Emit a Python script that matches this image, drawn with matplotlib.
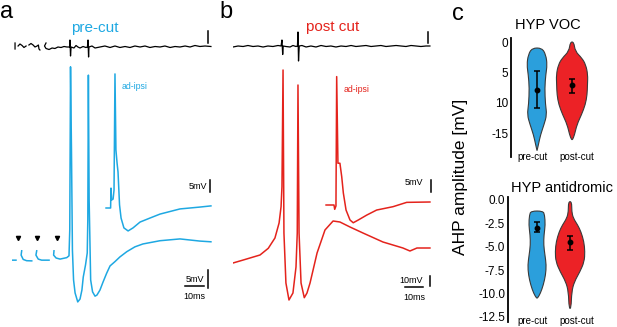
import matplotlib
matplotlib.use("Agg")
import matplotlib.pyplot as plt
import numpy as np
from matplotlib.patches import PathPatch
from matplotlib.path import Path

plt.rcParams["font.family"] = ["Liberation Sans", "DejaVu Sans"]

W, H = 617, 327
nan = np.nan

BLUE = "#1ea8e2"
RED = "#e4231c"
VBLUE = "#2b9fdc"
VRED = "#ec2226"
EDGE = "#3a3a3a"

# ---------------------------------------------------------------------------
# Datos — trazas (t en ms, V en mV; extracelular en u.a.)
# ---------------------------------------------------------------------------
stim_ms = [3.0, 13.3, 23.8]

pre_soma_t = [0, 2.1, nan, 5.1, 4.8, 5.9, 7.7, 10.4, nan, 13.0, 12.6, 13.8, 15.6, 19.5, nan,
              22.1, 21.9, 23.2, 25.3, 28.8, 30.0, 30.4, 30.8, 31.3, 31.8, 32.4, 33.2, 34.6,
              35.8, 36.8, 37.5, 38.7, 39.6, 39.9, 40.2, 40.6, 41.4, 42.4, 43.7, 44.7, 46.3,
              47.9, 49.8, 51.6, 54.2, 56.8, 60.4, 64.7, 68.9, 77.9, 88.4, 98.9, 104.7]
pre_soma_v = [-0.6, -0.6, nan, 2.0, 0.8, -0.4, -0.75, -0.8, nan, 2.0, 0.8, -0.3, -0.6, -0.6, nan,
              2.0, 0.8, 0.0, -0.3, 0.1, 0.6, 7.8, 53.1, 30, 2.2, -6.1, -9.7, -12.2,
              -11.4, -8.9, -5.3, -1.9, 1.4, 10.6, 50.8, 16.1, -6.1, -9.4, -10.6, -10.3, -8.9,
              -6.7, -4.25, -2.2, -1.0, 0.3, 1.75, 3.1, 3.9, 4.8, 5.3, 4.7, 4.5]

pre_axon_t = [49.5, 51.9, 52.1, 52.4, 53.2, 53.7, 54.2, 54.7, 55.3, 55.8, 56.6, 57.4, 58.9,
              61.1, 63.7, 67.4, 72.6, 77.9, 88.4, 98.9, 104.7]
pre_axon_v = [0, 0, 8.5, 3.4, 3.8, 7.7, 57.3, 24.8, 19.2, 15.4, 1.3, -4.3, -8.5,
              -9.8, -8.5, -6.0, -4.3, -2.6, -0.4, 0.4, 0.9]

pre_ext_t = [1.6, 1.6, nan, 3.2, 4.2, 5.3, 6.3, 7.4, nan,
             8.9, 10.0, 11.1, 12.1, 13.2, 13.9, 14.2, 14.7, nan,
             17.9, 17.1, 17.9, 19.5, 21.1, 22.6, 24.2, 25.8, 27.4, 28.9, 30.3, 30.5, 30.8,
             31.1, 32.6, 33.7, 34.7, 35.8, 37.4, 38.9, 39.7, 40.0, 40.3, 40.5, 42.1, 43.7,
             46.3, 48.9, 51.6, 54.2, 56.8, 59.5, 62.1, 64.7, 67.4, 70.0, 72.6, 75.3, 77.9,
             80.5, 83.2, 85.8, 88.4, 91.1, 93.7, 96.3, 98.9, 101.6, 104.7]
pre_ext_v = [4, -2, nan, 1, 3, 1.5, -0.5, 1, nan,
             2, 3.5, 2, 0, 1, 2, -2, -3, nan,
             4, 1, -1.5, -2.5, -1, -1.5, 0, -0.5, 0.5, 0, 0, 7, -9,
             0, -1, 1.5, 0, -1, 0.5, -0.5, 0, 7, -10, 0, 1, -1,
             0, 1, -0.5, 1, -0.5, 0.5, -0.5, 1, 0, 1, -0.5, 0.5, 0,
             1, -0.5, 0.5, 0, 1, 0, 1.5, 0.5, 1, 0.5]

post_soma_t = [0, 5.7, 15, 19.6, 23.3, 25.6, 26.7, 27.2, 27.8, 28.3, 29.4, 31.1, 33.3, 35.0,
               35.7, 36.1, 36.7, 37.8, 39.6, 41.1, 42.8, 46.7, 51.1, 55.6, 59.4, 65.0, 72.2,
               83.3, 94.4, 98.3, 102.2, 109.4]
post_soma_v = [0, 3, 8, 14.7, 25, 40, 56.3, 76.3, 193, 30, -20, -37, -30, -4,
               30, 178, 30, -20, -34.7, -30, -20, 10, 33, 42, 41, 36, 30,
               21, 15, 12, 15, 15]

post_axon_t = [51.7, 56.1, 56.5, 57.2, 57.6, 58.3, 59.4, 60.4, 61.3, 62.8, 65.0, 66.8, 69.6,
               74.3, 79.8, 88.9, 96.5, 109.4]
post_axon_v = [0, 0, -1.8, -0.4, 53.5, 17.4, 17.4, 11.8, 5.0, -2.1, -6.25, -7.4, -6.25,
               -4.2, -2.1, -0.7, 1.1, 1.25]

post_ext_t = [0, 2.8, 5.6, 8.3, 11.1, 13.9, 16.7, 19.4, 22.2, 25.0, 26.7, 27.2, 27.6, 27.9,
              29.4, 31.7, 33.3, 35.0, 35.8, 36.1, 36.4, 36.8, 38.3, 40.6, 43.3, 46.1, 48.9,
              51.7, 54.4, 57.2, 60.0, 62.8, 65.6, 68.3, 71.1, 73.9, 76.7, 79.4, 82.2, 85.0,
              87.8, 90.6, 93.3, 96.1, 98.9, 101.7, 104.4, 107.2, 109.4]
post_ext_v = [-0.5, 0.5, 0, 1, 0, 0.5, -0.5, 0.5, 0, 1, 0.5, 6.5, -8, 0.5,
              0, -0.5, 1, 0, 0.5, 14.5, -14.5, 0.5, 1, -0.5, 0.5, -0.5, 1,
              0, 0.5, -0.5, 0.5, 0, 1, 0, 0.5, 1, 0, 0.5, 1, 0,
              0.5, 1, 0.5, 0, 1, 0.5, 0, 0.5, 0.5]

# ---------------------------------------------------------------------------
# Datos — violines (nivel en mV, semiancho en unidades de categoría)
# ---------------------------------------------------------------------------
groups = ["pre-cut", "post-cut"]

voc_pre_lv = [0.99, 2.09, 3.73, 5.38, 7.58, 10.3, 11.97, 13.6, 15.3, 16.9, 17.9]
voc_pre_hw = [0.14, 0.25, 0.29, 0.25, 0.22, 0.24, 0.28, 0.20, 0.10, 0.04, 0.0]
voc_post_lv = [0.0, 1.54, 2.64, 3.73, 5.38, 7.03, 8.68, 10.3, 11.97, 13.6, 15.3, 16.1]
voc_post_hw = [0.05, 0.09, 0.28, 0.39, 0.45, 0.44, 0.43, 0.38, 0.27, 0.14, 0.07, 0.015]
voc_mean = [7.85, 7.14]
voc_lo = [4.83, 6.04]
voc_hi = [10.9, 8.4]

ant_pre_lv = [-1.18, -1.6, -2.67, -3.74, -4.8, -5.9, -6.95, -8.0, -9.1, -10.0, -10.5]
ant_pre_hw = [0.18, 0.23, 0.25, 0.21, 0.20, 0.24, 0.28, 0.26, 0.19, 0.10, 0.015]
ant_post_lv = [-0.18, -1.25, -1.96, -2.67, -3.39, -4.46, -5.53, -6.6, -7.67, -8.74, -9.8, -11.6]
ant_post_hw = [0.05, 0.05, 0.10, 0.23, 0.33, 0.42, 0.45, 0.43, 0.30, 0.13, 0.05, 0.03]
ant_mean = [-2.96, -4.53]
ant_lo = [-3.46, -5.35]
ant_hi = [-2.39, -3.82]


# ---------------------------------------------------------------------------
# Helpers
# ---------------------------------------------------------------------------
fig = plt.figure(figsize=(W / 100, H / 100), dpi=100)


def px_axes(x0, y0, x1, y1):
    return fig.add_axes([x0 / W, 1 - y1 / H, (x1 - x0) / W, (y1 - y0) / H])


def trace_ax(box, px_ms, px_unit, base_px):
    x0, y0, x1, y1 = box
    ax = px_axes(*box)
    ax.set_xlim(0, (x1 - x0) / px_ms)
    ax.set_ylim((base_px - y1) / px_unit, (base_px - y0) / px_unit)
    ax.axis("off")
    return ax


def ftext(x, y, s, **kw):
    fig.text(x / W, 1 - y / H, s, **kw)


def vbar(ax, t, v0, size):
    ax.plot([t, t], [v0, v0 + size], color="black", lw=1.1, clip_on=False)


def hbar(ax, t0, v, size):
    ax.plot([t0, t0 + size], [v, v], color="black", lw=1.1, clip_on=False)


# ---------------------------------------------------------------------------
# Panel a
# ---------------------------------------------------------------------------
box_a = (12, 30, 212, 310)
ax_a_soma = trace_ax(box_a, 1.9, 3.6, 258)
ax_a_axon = trace_ax(box_a, 1.9, 2.34, 208)
ax_a_ext = trace_ax(box_a, 1.9, 1.0, 47)

ax_a_soma.plot(pre_soma_t, pre_soma_v, color=BLUE, lw=1.1)
ax_a_soma.plot(stim_ms, [5.6] * len(stim_ms), "v", color="black", ms=3)
ax_a_axon.plot(pre_axon_t, pre_axon_v, color=BLUE, lw=1.1)
ax_a_ext.plot(pre_ext_t, pre_ext_v, color="black", lw=0.9)

# barras de escala
vbar(ax_a_ext, 103.4, 4, 12)
vbar(ax_a_axon, 104.2, 6.8, 5)
ax_a_axon.text(102.6, 9.4, "5mV", fontsize=6.5, ha="right", va="center")
vbar(ax_a_soma, 103.2, -8.3, 5)
hbar(ax_a_soma, 91.0, -7.8, 10)
ax_a_soma.text(101.0, -6.0, "5mV", fontsize=6.5, ha="right", va="center")
ax_a_soma.text(96.0, -10.6, "10ms", fontsize=6.5, ha="center", va="center")

ftext(7, 12, "a", fontsize=17, ha="center", va="center")
ftext(95, 28, "pre-cut", fontsize=11, color=BLUE, ha="center", va="center")
ftext(135, 86, "ad-ipsi", fontsize=6.3, color=BLUE, ha="center", va="center")

# ---------------------------------------------------------------------------
# Panel b
# ---------------------------------------------------------------------------
box_b = (233, 30, 433, 310)
ax_b_soma = trace_ax(box_b, 1.8, 1.0, 263)
ax_b_axon = trace_ax(box_b, 1.8, 2.4, 205)
ax_b_ext = trace_ax(box_b, 1.8, 1.0, 46.5)

ax_b_soma.plot(post_soma_t, post_soma_v, color=RED, lw=1.1)
ax_b_axon.plot(post_axon_t, post_axon_v, color=RED, lw=1.1)
ax_b_ext.plot(post_ext_t, post_ext_v, color="black", lw=0.9)

vbar(ax_b_ext, 108.3, 3.5, 11)
vbar(ax_b_axon, 110.0, 5.4, 5)
ax_b_axon.text(105.6, 9.2, "5mV", fontsize=6.5, ha="right", va="center")
vbar(ax_b_soma, 109.4, -23, 10)
hbar(ax_b_soma, 95.6, -24, 10)
ax_b_soma.text(105.6, -17.7, "10mV", fontsize=6.5, ha="right", va="center")
ax_b_soma.text(100.6, -35, "10ms", fontsize=6.5, ha="center", va="center")

ftext(226, 12, "b", fontsize=17, ha="center", va="center")
ftext(333, 27, "post cut", fontsize=11, color=RED, ha="center", va="center")
ftext(357, 90, "ad-ipsi", fontsize=6.3, color=RED, ha="center", va="center")

# ---------------------------------------------------------------------------
# Panel c — violines
# ---------------------------------------------------------------------------


def violin_patch(pos, lv, hw, color):
    """Contorno suavizado (bezier cuadrática por los puntos medios)."""
    lv = np.asarray(lv, float)
    hw = np.asarray(hw, float)
    right = np.column_stack([pos + hw, lv])
    left = np.column_stack([pos - hw, lv])[::-1]
    pts = np.vstack([right, left])
    mids = (pts + np.roll(pts, -1, axis=0)) / 2
    verts = [mids[-1]]
    codes = [Path.MOVETO]
    for i in range(len(pts)):
        verts += [pts[i], mids[i]]
        codes += [Path.CURVE3, Path.CURVE3]
    verts.append(mids[-1])
    codes.append(Path.CLOSEPOLY)
    return PathPatch(Path(verts, codes), facecolor=color, edgecolor=EDGE, lw=0.8)


def violin_panel(box, xlim, ylim, ticks, ticklabels, pre, post, mean, lo, hi):
    ax = px_axes(*box)
    for pos, (lv, hw), col in zip([0, 1], [pre, post], [VBLUE, VRED]):
        ax.add_patch(violin_patch(pos, lv, hw, col))
    mean = np.array(mean)
    yerr = [mean - np.array(lo), np.array(hi) - mean]
    ax.errorbar([0, 1], mean, yerr=yerr, fmt="o", color="black", ms=3.2,
                elinewidth=1.1, capsize=2, capthick=1.1)
    ax.set_xlim(*xlim)
    ax.set_ylim(*ylim)
    ax.set_yticks(ticks)
    ax.set_yticklabels(ticklabels)
    ax.tick_params(axis="y", length=0, pad=2, labelsize=8.5)
    ax.set_xticks([])
    for side in ["top", "right", "bottom"]:
        ax.spines[side].set_visible(False)
    ax.spines["left"].set_linewidth(1.3)
    ax.patch.set_visible(False)
    return ax


ax_voc = violin_panel((511, 38, 612, 157), (-0.743, 2.14), (18.95, -0.66),
                      [0, 5, 10, 15], ["0", "5", "10", "-15"],
                      (voc_pre_lv, voc_pre_hw), (voc_post_lv, voc_post_hw),
                      voc_mean, voc_lo, voc_hi)
ax_ant = violin_panel((508, 197, 612, 322), (-0.879, 2.27), (-13.05, 0.32),
                      [0, -2.5, -5, -7.5, -10, -12.5],
                      ["0.0", "-2.5", "-5.0", "-7.5", "-10.0", "-12.5"],
                      (ant_pre_lv, ant_pre_hw), (ant_post_lv, ant_post_hw),
                      ant_mean, ant_lo, ant_hi)

for yb in [157, 321]:
    ftext(533, yb, groups[0], fontsize=7, ha="center", va="center")
    ftext(577, yb, groups[1], fontsize=7, ha="center", va="center")

ftext(548, 25, "HYP VOC", fontsize=10.5, ha="center", va="center")
ftext(562, 188, "HYP antidromic", fontsize=10.5, ha="center", va="center")
ftext(460, 177, "AHP amplitude [mV]", fontsize=12.5, rotation=90,
      ha="center", va="center")
ftext(458, 14, "c", fontsize=17, ha="center", va="center")

fig.savefig("out.png", dpi=100)
